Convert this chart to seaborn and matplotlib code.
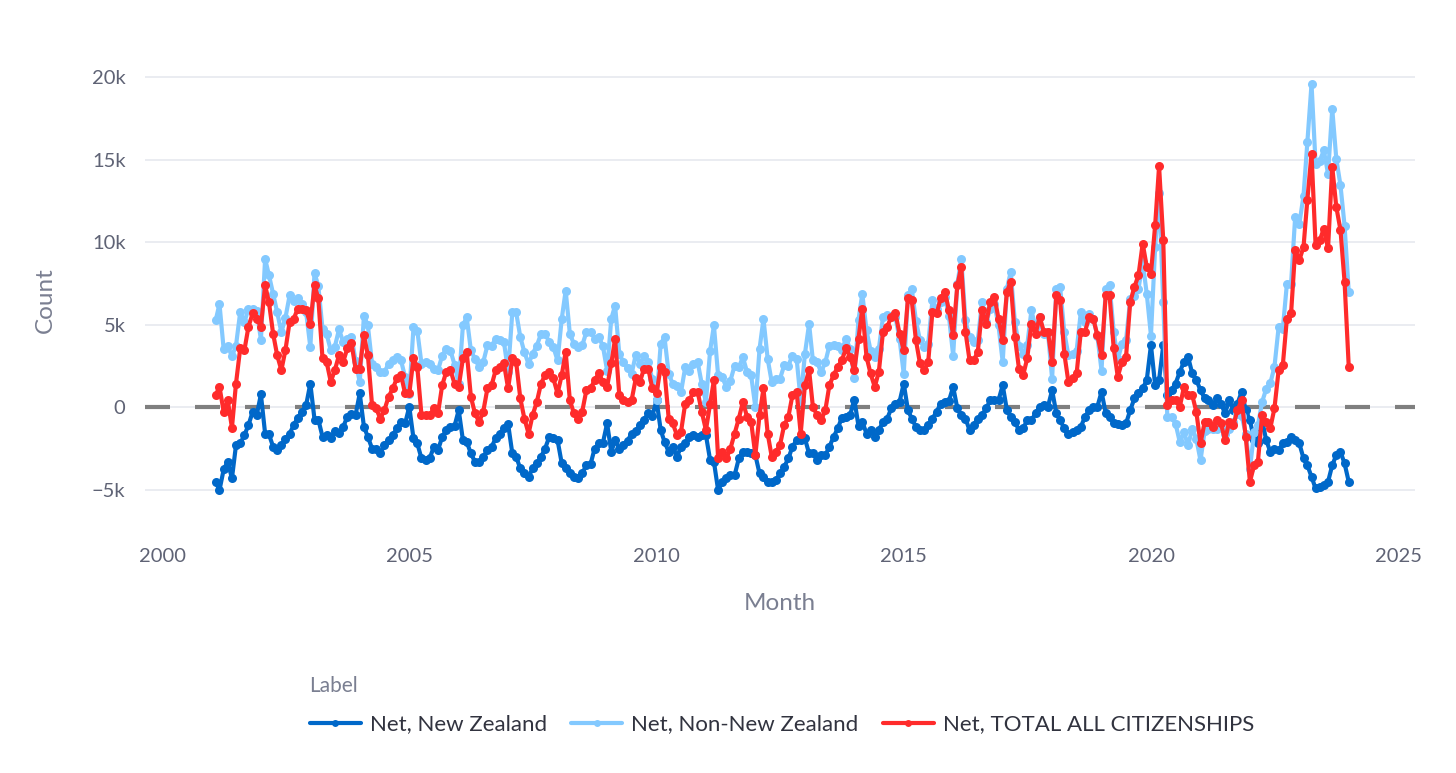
import pandas as pd
import seaborn as sns
import matplotlib.pyplot as plt
from matplotlib.lines import Line2D

# monthly net migration, thousands, Jan 2001 .. Dec 2023 (one row per year)
NZ = [
    -4.53, -5.03, -3.78, -3.31, -4.32, -2.30, -2.20, -1.70, -1.09, -0.28, -0.48, 0.77,
    -1.60, -1.64, -2.40, -2.61, -2.30, -1.96, -1.60, -1.09, -0.63, -0.28, 0.12, 1.43,
    -0.75, -0.75, -1.80, -1.70, -1.90, -1.43, -1.56, -1.19, -0.59, -0.42, -0.48, 0.83,
    -1.19, -1.80, -2.51, -2.51, -2.81, -2.30, -2.00, -1.70, -1.29, -0.89, -0.99, 0.02,
    -1.90, -2.20, -3.11, -3.21, -3.11, -2.40, -2.61, -1.80, -1.39, -1.19, -1.15, -0.18,
    -2.00, -2.10, -2.81, -3.31, -3.31, -3.01, -2.61, -2.40, -1.90, -1.60, -1.29, -1.03,
    -2.81, -3.01, -3.72, -4.02, -4.22, -3.72, -3.41, -3.01, -2.51, -1.80, -1.90, -2.00,
    -3.41, -3.72, -4.02, -4.22, -4.32, -4.02, -3.52, -3.45, -2.51, -2.20, -2.16, -0.99,
    -2.71, -2.00, -2.51, -2.30, -2.04, -1.60, -1.45, -1.09, -0.75, -0.38, -0.55, 0.42,
    -1.39, -2.10, -2.71, -2.40, -3.01, -2.40, -2.20, -1.80, -1.70, -1.80, -1.70, -1.70,
    -3.21, -3.31, -5.03, -4.53, -4.32, -4.12, -4.12, -3.11, -2.71, -2.71, -2.81, -2.91,
    -4.02, -4.22, -4.53, -4.53, -4.42, -4.02, -3.62, -3.11, -2.40, -2.00, -2.00, -1.90,
    -2.81, -2.81, -3.21, -2.91, -2.91, -2.40, -1.80, -1.29, -0.63, -0.59, -0.48, 0.46,
    -1.15, -0.89, -1.60, -1.39, -1.80, -1.39, -0.89, -0.69, -0.08, 0.22, 0.32, 1.43,
    -0.18, -0.69, -1.19, -1.39, -1.39, -1.09, -0.69, -0.28, 0.22, 0.32, 0.38, 1.23,
    -0.08, -0.48, -0.69, -1.39, -1.09, -0.69, -0.48, -0.08, 0.42, 0.42, 0.42, 1.33,
    -0.18, -0.59, -0.89, -1.39, -1.29, -0.79, -0.79, -0.38, 0.02, 0.12, 0.02, 1.03,
    -0.38, -0.79, -1.29, -1.60, -1.49, -1.39, -1.19, -0.59, -0.18, 0.02, 0.02, 0.93,
    -0.38, -0.59, -0.99, -1.05, -1.09, -0.99, -0.18, 0.53, 0.83, 1.13, 1.64, 3.76,
    1.33, 1.64, 3.76, 0.73, 1.03, 1.43, 2.14, 2.75, 3.05, 2.04, 1.64, 1.03,
    0.53, 0.42, 0.12, 0.53, 0.22, -0.38, 0.42, -0.18, 0.22, 0.93, -0.18, -0.79,
    -2.00, -2.20, -0.79, -2.00, -2.71, -2.51, -2.61, -2.20, -2.10, -1.80, -2.00, -2.20,
    -3.11, -3.52, -4.22, -4.93, -4.83, -4.73, -4.53, -3.52, -2.91, -2.71, -3.41, -4.53,
]
NON_NZ = [
    5.26, 6.26, 3.50, 3.73, 3.07, 3.73, 5.76, 5.15, 5.96, 5.96, 5.85, 4.10,
    8.99, 8.02, 6.86, 5.76, 4.54, 5.41, 6.77, 6.46, 6.61, 6.26, 5.76, 3.64,
    8.14, 7.34, 4.75, 4.45, 3.44, 3.67, 4.71, 3.94, 4.15, 4.28, 2.82, 1.51,
    5.55, 4.95, 2.63, 2.43, 2.12, 2.12, 2.63, 2.83, 3.03, 2.83, 1.82, 0.81,
    4.85, 4.64, 2.63, 2.73, 2.63, 2.32, 2.23, 3.13, 3.53, 3.43, 2.58, 1.41,
    4.95, 5.45, 3.44, 2.93, 2.42, 2.73, 3.74, 3.73, 4.14, 4.04, 3.94, 2.16,
    5.76, 5.76, 4.25, 3.33, 2.62, 3.24, 3.73, 4.44, 4.45, 3.94, 3.64, 2.83,
    5.35, 7.07, 4.44, 3.84, 3.63, 3.74, 4.55, 4.58, 4.15, 4.24, 3.70, 2.22,
    5.36, 6.16, 3.24, 2.72, 2.36, 2.02, 3.19, 2.63, 3.09, 2.72, 1.68, 0.41,
    3.83, 4.24, 2.02, 1.41, 1.31, 0.91, 2.42, 2.22, 2.63, 2.73, 1.42, 0.31,
    3.43, 4.95, 1.92, 1.82, 1.21, 1.61, 2.52, 2.42, 3.03, 2.12, 1.92, 0.00,
    3.54, 5.35, 2.93, 1.52, 1.71, 1.72, 2.53, 2.52, 3.13, 2.93, 0.40, 3.23,
    5.05, 2.83, 2.73, 2.12, 2.73, 3.73, 3.74, 3.73, 3.48, 4.15, 3.53, 1.78,
    5.31, 6.87, 4.65, 3.43, 3.03, 3.53, 5.46, 5.56, 5.55, 5.46, 4.14, 2.02,
    6.77, 7.17, 5.25, 4.04, 3.63, 3.84, 6.47, 5.96, 6.37, 6.67, 5.50, 3.13,
    7.47, 8.99, 5.26, 4.24, 3.94, 4.04, 6.36, 5.15, 5.96, 6.27, 4.95, 2.73,
    7.17, 8.19, 5.15, 3.73, 3.23, 3.74, 5.86, 4.84, 5.45, 4.45, 4.55, 1.72,
    7.17, 7.27, 4.54, 3.14, 3.23, 3.43, 5.76, 5.16, 5.65, 5.35, 4.34, 2.22,
    7.17, 7.38, 4.55, 2.89, 3.84, 4.04, 6.56, 6.76, 7.17, 8.79, 6.87, 4.34,
    9.70, 12.97, 6.36, -0.61, -0.61, -1.01, -2.12, -1.52, -2.32, -1.31, -1.92, -3.23,
    -1.42, -1.31, -1.31, -1.32, -1.21, -1.62, -1.31, -0.91, -0.40, -0.51, -1.62, -3.74,
    -1.52, -1.11, 0.31, 1.10, 1.46, 2.43, 4.85, 4.75, 7.47, 7.48, 11.52, 11.11,
    12.83, 16.07, 19.59, 14.75, 14.95, 15.56, 14.15, 18.09, 15.05, 13.44, 11.01, 6.97,
]
TOTAL = [
    0.73, 1.23, -0.28, 0.42, -1.25, 1.43, 3.56, 3.45, 4.87, 5.68, 5.37, 4.87,
    7.39, 6.38, 4.46, 3.15, 2.24, 3.45, 5.17, 5.37, 5.98, 5.98, 5.88, 5.07,
    7.39, 6.59, 2.95, 2.75, 1.54, 2.24, 3.15, 2.75, 3.56, 3.86, 2.34, 2.34,
    4.36, 3.15, 0.12, -0.08, -0.69, -0.18, 0.63, 1.13, 1.74, 1.94, 0.83, 0.83,
    2.95, 2.44, -0.48, -0.48, -0.48, -0.08, -0.38, 1.33, 2.14, 2.24, 1.43, 1.23,
    2.95, 3.35, 0.63, -0.38, -0.89, -0.28, 1.13, 1.33, 2.24, 2.44, 2.65, 1.13,
    2.95, 2.75, 0.53, -0.69, -1.60, -0.48, 0.32, 1.43, 1.94, 2.14, 1.74, 0.83,
    1.94, 3.35, 0.42, -0.38, -0.69, -0.28, 1.03, 1.13, 1.64, 2.04, 1.54, 1.23,
    2.65, 4.16, 0.73, 0.42, 0.32, 0.42, 1.74, 1.54, 2.34, 2.34, 1.13, 0.83,
    2.44, 2.14, -0.69, -0.99, -1.70, -1.49, 0.22, 0.42, 0.93, 0.93, -0.28, -1.39,
    0.22, 1.64, -3.11, -2.71, -3.11, -2.51, -1.60, -0.69, 0.32, -0.59, -0.89, -2.91,
    -0.48, 1.13, -1.60, -3.01, -2.71, -2.30, -1.09, -0.59, 0.73, 0.93, -1.60, 1.33,
    2.24, 0.02, -0.48, -0.79, -0.18, 1.33, 1.94, 2.44, 2.85, 3.56, 3.05, 2.24,
    4.16, 5.98, 3.05, 2.04, 1.23, 2.14, 4.57, 4.87, 5.47, 5.68, 4.46, 3.45,
    6.59, 6.48, 4.06, 2.65, 2.24, 2.75, 5.78, 5.68, 6.59, 6.99, 5.88, 4.36,
    7.39, 8.51, 4.57, 2.85, 2.85, 3.35, 5.88, 5.07, 6.38, 6.69, 5.37, 4.06,
    6.99, 7.60, 4.26, 2.34, 1.94, 2.95, 5.07, 4.46, 5.47, 4.57, 4.57, 2.75,
    6.79, 6.48, 3.25, 1.54, 1.74, 2.04, 4.57, 4.57, 5.47, 5.37, 4.36, 3.15,
    6.79, 6.79, 3.56, 1.84, 2.75, 3.05, 6.38, 7.29, 8.00, 9.92, 8.51, 8.10,
    11.03, 14.61, 10.12, 0.12, 0.42, 0.42, 0.02, 1.23, 0.73, 0.73, -0.28, -2.20,
    -0.89, -0.89, -1.19, -0.79, -0.99, -2.00, -0.89, -1.09, -0.18, 0.42, -1.80, -4.53,
    -3.52, -3.31, -0.48, -0.90, -1.25, -0.08, 2.24, 2.55, 5.37, 5.68, 9.52, 8.91,
    9.72, 12.55, 15.37, 9.82, 10.12, 10.83, 9.62, 14.57, 12.14, 10.73, 7.60, 2.44,
]

LABELS = ['Net, New Zealand', 'Net, Non-New Zealand', 'Net, TOTAL ALL CITIZENSHIPS']
COLORS = ['#0068c9', '#83c9ff', '#ff2b2b']
YEAR_TICKS = [2000, 2005, 2010, 2015, 2020, 2025]
COUNT_TICKS = [-5000, 0, 5000, 10000, 15000, 20000]
COUNT_LABELS = ['\u22125k', '0', '5k', '10k', '15k', '20k']

TICK_COLOR = '#5f6375'
TITLE_COLOR = '#7a7f91'
GRID_COLOR = '#e6e9ef'


def build_df():
    months = pd.date_range('2001-01-01', '2023-12-01', freq='MS') + pd.offsets.MonthEnd(0)
    parts = []
    for label, vals in zip(LABELS, [NZ, NON_NZ, TOTAL]):
        assert len(vals) == len(months), (label, len(vals))
        parts.append(pd.DataFrame({'Month': months,
                                   'Count': [v * 1000 for v in vals],
                                   'Label': label}))
    return pd.concat(parts, ignore_index=True)


def main():
    df = build_df()
    sns.set_style('white')
    plt.rcParams['font.family'] = ['Lato', 'DejaVu Sans']

    fig, ax = plt.subplots(figsize=(14.56, 7.73), dpi=100)
    fig.subplots_adjust(left=0.0996, right=0.972, bottom=0.309, top=0.915)

    ax.axhline(0, color='#7f7f7f', lw=3, ls=(0, (6, 6)), zorder=1)
    sns.lineplot(data=df, x='Month', y='Count', hue='Label', hue_order=LABELS,
                 palette=dict(zip(LABELS, COLORS)), marker='o', markersize=6.5,
                 markeredgewidth=0, linewidth=3, ax=ax, legend=False, zorder=3)

    ax.set_xlim(pd.Timestamp('1999-08-28'), pd.Timestamp('2025-05-05'))
    ax.set_ylim(-7700, 20700)
    ax.set_xticks([pd.Timestamp(f'{y}-01-01') for y in YEAR_TICKS])
    ax.set_xticklabels([str(y) for y in YEAR_TICKS])
    ax.set_yticks(COUNT_TICKS)
    ax.set_yticklabels(COUNT_LABELS)
    ax.tick_params(axis='both', length=0, labelsize=14.5, labelcolor=TICK_COLOR)
    ax.tick_params(axis='y', pad=14)
    ax.tick_params(axis='x', pad=10)
    ax.grid(axis='y', color=GRID_COLOR, lw=1.2)
    ax.grid(axis='x', visible=False)
    ax.set_axisbelow(True)
    for s in ax.spines.values():
        s.set_visible(False)

    ax.set_xlabel('Month', fontsize=17.5, color=TITLE_COLOR, labelpad=20)
    ax.set_ylabel('Count', fontsize=17.5, color=TITLE_COLOR, labelpad=26)

    handles = [Line2D([], [], color=c, lw=3, marker='o', markersize=5,
                      markeredgewidth=0) for c in COLORS]
    # one row of entries, so labelspacing only sets the gap under the title
    leg = fig.legend(handles, LABELS, loc='center', bbox_to_anchor=(0.537, 0.088),
                     ncol=3, frameon=False, title='Label', alignment='left',
                     fontsize=16, title_fontsize=15, handlelength=2.3,
                     columnspacing=1.1, handletextpad=0.4, labelspacing=0.85)
    leg.get_title().set_color(TITLE_COLOR)
    for t in leg.get_texts():
        t.set_color('#31333f')

    fig.savefig('out.png', dpi=100)


if __name__ == '__main__':
    main()
